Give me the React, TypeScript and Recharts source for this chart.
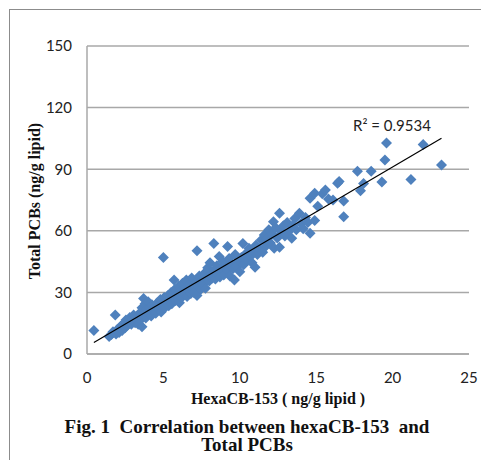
import { ScatterChart, Scatter, XAxis, YAxis, CartesianGrid } from 'recharts';

// HexaCB-153 (ng/g lipid)
const hexaCB153 = [
  0.45, 1.45, 1.6, 1.7, 1.85, 1.9, 2.0, 2.1, 2.2, 2.3,
  2.4, 2.5, 2.55, 2.65, 2.75, 2.8, 2.9, 3.0, 3.05, 3.15,
  3.2, 3.3, 3.35, 3.45, 3.5, 3.6, 3.6, 3.7, 3.75, 3.8,
  3.85, 3.9, 4.0, 4.05, 4.1, 4.2, 4.25, 4.35, 4.45, 4.5,
  4.6, 4.7, 4.8, 4.85, 4.95, 5.0, 5.05, 5.1, 5.2, 5.3,
  5.35, 5.45, 5.5, 5.55, 5.65, 5.7, 5.75, 5.8, 5.9, 6.0,
  6.05, 6.1, 6.2, 6.25, 6.35, 6.4, 6.5, 6.55, 6.65, 6.7,
  6.8, 6.85, 6.95, 7.0, 7.1, 7.2, 7.2, 7.3, 7.35, 7.45,
  7.5, 7.6, 7.7, 7.75, 7.85, 7.9, 8.0, 8.05, 8.1, 8.2,
  8.3, 8.35, 8.4, 8.5, 8.55, 8.65, 8.7, 8.8, 8.9, 8.95,
  9.05, 9.2, 9.2, 9.3, 9.35, 9.45, 9.55, 9.65, 9.7, 9.8,
  9.9, 10.0, 10.1, 10.2, 10.25, 10.4, 10.5, 10.6, 10.7, 10.8,
  10.9, 11.0, 11.05, 11.15, 11.3, 11.4, 11.5, 11.6, 11.7, 11.8,
  11.9, 12.0, 12.1, 12.2, 12.25, 12.35, 12.45, 12.6, 12.6, 12.7,
  12.85, 12.95, 13.1, 13.25, 13.4, 13.45, 13.6, 13.7, 13.9, 14.0,
  14.15, 14.3, 14.45, 14.6, 14.6, 14.9, 14.9, 15.1, 15.4, 15.6,
  15.8, 16.1, 16.4, 16.5, 16.8, 16.8, 17.7, 17.9, 18.1, 18.6,
  19.3, 19.5, 19.6, 21.2, 22.0, 23.2,
];

// Total PCBs (ng/g lipid), same order
const totalPCBs = [
  11.5, 8.5, 9.5, 10.8, 19.0, 9.8, 12.0, 10.5, 13.5, 11.5,
  14.8, 12.8, 16.5, 14.0, 15.5, 17.8, 14.5, 16.8, 19.0, 15.2,
  17.5, 18.5, 14.5, 20.0, 16.5, 13.3, 22.5, 27.0, 19.0, 24.5,
  17.5, 21.5, 25.5, 19.5, 22.5, 18.5, 24.0, 21.0, 23.5, 19.8,
  25.0, 22.0, 26.5, 20.5, 24.0, 47.0, 27.5, 22.5, 25.5, 28.5,
  23.5, 26.5, 30.0, 24.5, 27.5, 36.0, 31.5, 26.0, 29.0, 33.0,
  25.0, 30.5, 27.5, 34.5, 29.5, 32.0, 36.0, 28.0, 31.0, 34.0,
  29.5, 37.0, 32.5, 30.0, 35.0, 50.3, 28.5, 33.0, 38.0, 31.5,
  36.0, 34.0, 39.5, 32.0, 37.5, 42.0, 35.5, 44.5, 39.0, 37.0,
  53.8, 41.0, 36.5, 43.0, 39.0, 47.5, 37.5, 41.5, 45.0, 38.5,
  43.5, 52.3, 40.5, 46.5, 38.0, 44.0, 41.5, 36.0, 48.5, 42.5,
  45.5, 40.0, 47.0, 53.8, 43.5, 49.0, 45.5, 51.5, 47.5, 44.5,
  50.5, 42.2, 53.0, 48.5, 51.0, 55.5, 49.5, 58.0, 52.5, 56.0,
  60.5, 54.0, 58.5, 64.4, 51.5, 61.5, 56.5, 68.5, 52.0, 59.5,
  62.5, 57.5, 64.0, 60.0, 56.4, 62.5, 66.0, 60.5, 68.5, 63.5,
  61.0, 66.5, 64.0, 58.8, 75.8, 65.0, 78.3, 72.0, 78.0, 79.9,
  75.5, 75.0, 83.1, 84.0, 66.9, 74.5, 89.0, 79.5, 83.0, 89.0,
  83.8, 94.5, 102.8, 85.0, 102.0, 92.0,
];

const xTicks = [0, 5, 10, 15, 20, 25];
const yTicks = [0, 30, 60, 90, 120, 150];
const rSquaredLabel = 'R² = 0.9534';

const points = hexaCB153.map((x, i) => ({ x, y: totalPCBs[i] }));

// least-squares trendline over the data range, like Excel's linear trendline
function linearFit(xs: number[], ys: number[]) {
  const n = xs.length;
  const mx = xs.reduce((a, b) => a + b, 0) / n;
  const my = ys.reduce((a, b) => a + b, 0) / n;
  let sxy = 0;
  let sxx = 0;
  for (let i = 0; i < n; i++) {
    sxy += (xs[i] - mx) * (ys[i] - my);
    sxx += (xs[i] - mx) ** 2;
  }
  const slope = sxy / sxx;
  const intercept = my - slope * mx;
  const lo = Math.min(...xs);
  const hi = Math.max(...xs);
  return [
    { x: lo, y: intercept + slope * lo },
    { x: hi, y: intercept + slope * hi },
  ];
}

const trend = linearFit(hexaCB153, totalPCBs);

const Diamond = (props: any) => {
  const { cx, cy } = props;
  const r = 5.5;
  return (
    <path
      d={`M${cx},${cy - r}L${cx + r},${cy}L${cx},${cy + r}L${cx - r},${cy}Z`}
      fill="#4F81BD"
    />
  );
};

const tickStyle = { fill: '#222', fontSize: 15, fontFamily: 'Lato, sans-serif' };
const serifBold = {
  fontFamily: '"Liberation Serif", "Times New Roman", serif',
  fontWeight: 700,
  color: '#111',
};

export default function App() {
  return (
    <div
      style={{
        position: 'absolute',
        left: 0,
        top: 0,
        width: 481,
        height: 460,
        overflow: 'hidden',
        background: '#fff',
      }}
    >
      {/* frame */}
      <div
        style={{
          position: 'absolute',
          left: 9,
          top: 9,
          width: 480,
          height: 460,
          borderLeft: '1px solid #8c8c8c',
          borderTop: '1px solid #8c8c8c',
        }}
      />

      <div style={{ position: 'absolute', left: 0, top: 0 }}>
        <ScatterChart
          width={481}
          height={460}
          margin={{ top: 46, right: 12, left: 0, bottom: 76 }}
        >
          <CartesianGrid vertical={false} stroke="#a8a8a8" strokeWidth={1.5} />
          <XAxis
            type="number"
            dataKey="x"
            domain={[0, 25]}
            ticks={xTicks}
            height={30}
            tickSize={0}
            tickMargin={18}
            tick={tickStyle}
            axisLine={{ stroke: '#a8a8a8', strokeWidth: 1.5 }}
            tickLine={false}
          />
          <YAxis
            type="number"
            dataKey="y"
            domain={[0, 150]}
            ticks={yTicks}
            width={87}
            tickSize={0}
            tickMargin={15}
            tick={tickStyle}
            axisLine={{ stroke: '#a8a8a8', strokeWidth: 1.5 }}
            tickLine={false}
          />
          <Scatter
            data={points}
            shape={Diamond}
            isAnimationActive={false}
          />
          <Scatter
            data={trend}
            line={{ stroke: '#000', strokeWidth: 1.2 }}
            shape={() => <g />}
            isAnimationActive={false}
          />
        </ScatterChart>
      </div>

      {/* R² annotation */}
      <div
        style={{
          position: 'absolute',
          left: 353,
          top: 116,
          fontSize: 15,
          fontFamily: 'Lato, sans-serif',
          color: '#222',
          whiteSpace: 'nowrap',
        }}
      >
        {rSquaredLabel}
      </div>

      {/* y axis title */}
      <div
        style={{
          ...serifBold,
          position: 'absolute',
          left: 35,
          top: 201,
          width: 240,
          textAlign: 'center',
          fontSize: 16,
          whiteSpace: 'nowrap',
          transform: 'translate(-50%, -50%) rotate(-90deg)',
        }}
      >
        Total PCBs (ng/g lipid)
      </div>

      {/* x axis title */}
      <div
        style={{
          ...serifBold,
          position: 'absolute',
          left: 168,
          top: 390,
          width: 220,
          textAlign: 'center',
          fontSize: 16,
          whiteSpace: 'pre',
        }}
      >
        {'HexaCB-153 ( ng/g lipid )'}
      </div>

      {/* caption */}
      <div
        style={{
          ...serifBold,
          position: 'absolute',
          left: 7,
          top: 418,
          width: 480,
          textAlign: 'center',
          fontSize: 19,
          lineHeight: '18px',
          whiteSpace: 'pre',
        }}
      >
        {'Fig. 1  Correlation between hexaCB-153  and\nTotal PCBs'}
      </div>
    </div>
  );
}
